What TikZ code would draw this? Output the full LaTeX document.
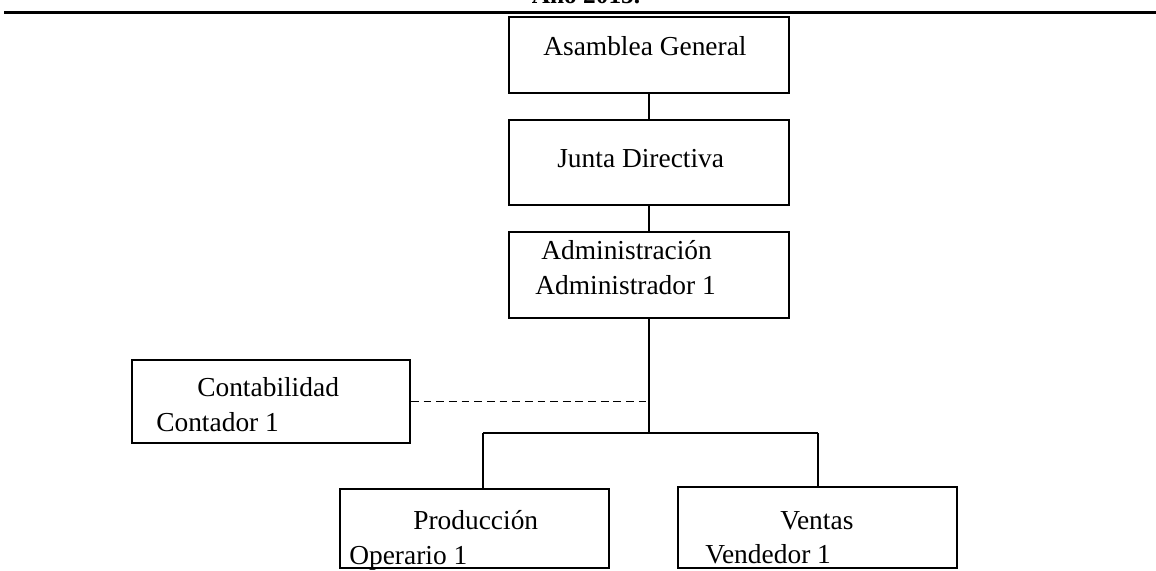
\documentclass[tikz,border=0pt]{standalone}
\usepackage{fontspec}
\setmainfont{Liberation Serif}
\tikzset{
  caja/.style={draw, rectangle, line width=1.3pt, inner sep=0pt},
  texto/.style={anchor=base west, inner sep=0pt, font=\fontsize{19.5}{23}\selectfont},
  linea/.style={line width=1.2pt}
}
\begin{document}
\begin{tikzpicture}[x=0.025cm, y=-0.025cm]
  \useasboundingbox (0,0) rectangle (1156,571);
  \clip (0,0) rectangle (1156,571);

  % titulo cortado y raya
  \node[anchor=base, inner sep=0pt, font=\fontsize{18}{20}\bfseries] (titulo) at (586,4) {Año 2015.};
  \draw[line width=1.6pt] (4,12.5) -- (1156,12.5);

  % cajas
  \node[caja, minimum width=7cm, minimum height=1.9cm] (asam) at (649,55) {};
  \node[caja, minimum width=7cm, minimum height=2.125cm] (junta) at (649,162.5) {};
  \node[caja, minimum width=7cm, minimum height=2.15cm] (admin) at (649,275) {};
  \node[caja, minimum width=6.95cm, minimum height=2.075cm] (conta) at (271,401.5) {};
  \node[caja, minimum width=6.725cm, minimum height=1.975cm] (prod) at (474.5,528.5) {};
  \node[caja, minimum width=6.975cm, minimum height=2.025cm] (ventas) at (817.5,527.5) {};

  % textos
  \node[texto] (asamT) at (543,56) {Asamblea General};
  \node[texto] (juntaT) at (557,168) {Junta Directiva};
  \node[texto] (adminT1) at (541,259) {Administración};
  \node[texto] (adminT2) at (535,294) {Administrador 1};
  \node[texto] (contaT1) at (197,396) {Contabilidad};
  \node[texto] (contaT2) at (156,431) {Contador 1};
  \node[texto] (prodT1) at (413,529) {Producción};
  \node[texto] (prodT2) at (349,564) {Operario 1};
  \node[texto] (ventasT1) at (780,529) {Ventas};
  \node[texto] (ventasT2) at (705,563) {Vendedor 1};

  % conectores
  \coordinate (rama) at (649,433);
  \coordinate (ramaI) at (483,433);
  \coordinate (ramaD) at (818,433);
  \draw[linea] (asam) -- (junta);
  \draw[linea] (junta) -- (admin);
  \draw[linea] (admin) -- (rama);
  \draw[linea] (ramaI) -- (ramaD);
  \draw[linea] (ramaI) -- (ramaI |- prod.north);
  \draw[linea] (ramaD) -- (ramaD |- ventas.north);
  \draw[linea, dash pattern=on 5.5pt off 3.5pt] (conta.east) -- (conta.east -| admin.south);
\end{tikzpicture}
\end{document}
